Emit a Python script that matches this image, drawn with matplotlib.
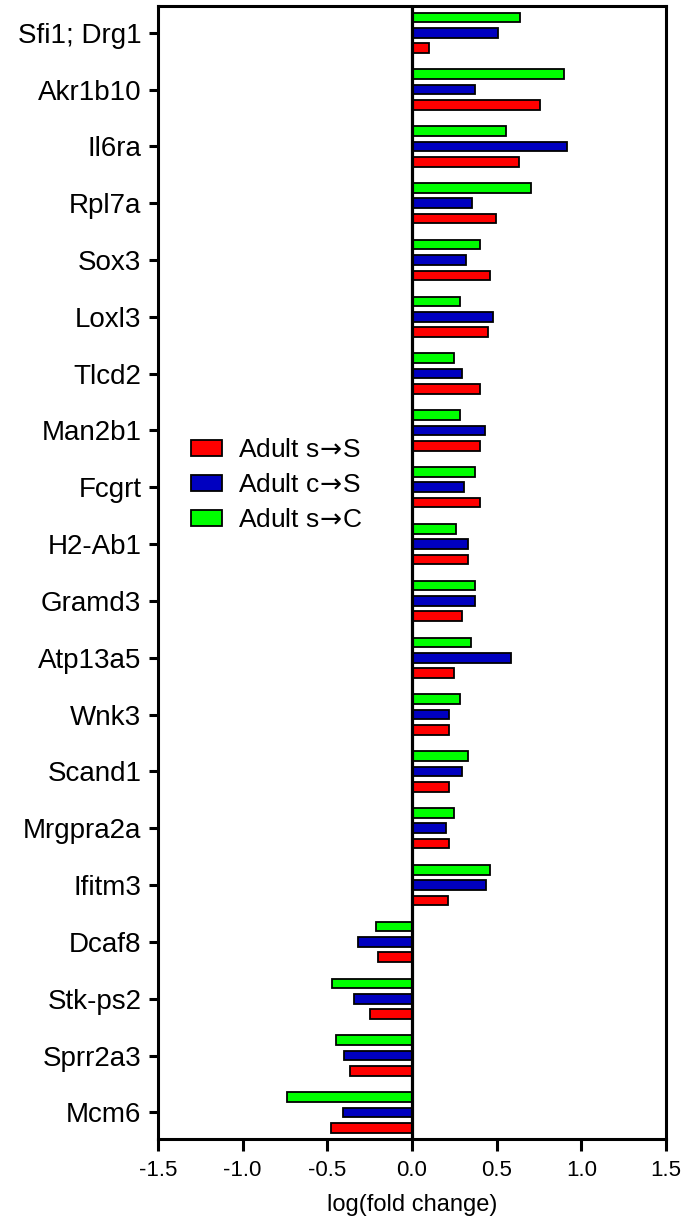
import numpy as np
import matplotlib
matplotlib.use("Agg")
import matplotlib.pyplot as plt

plt.rcParams['font.family'] = ['Liberation Sans', 'DejaVu Sans']
plt.rcParams['mathtext.fontset'] = 'dejavusans'

genes = ["Sfi1; Drg1", "Akr1b10", "Il6ra", "Rpl7a", "Sox3", "Loxl3", "Tlcd2",
         "Man2b1", "Fcgrt", "H2-Ab1", "Gramd3", "Atp13a5", "Wnk3", "Scand1",
         "Mrgpra2a", "Ifitm3", "Dcaf8", "Stk-ps2", "Sprr2a3", "Mcm6"]

adult_sS = [0.10, 0.755, 0.63, 0.495, 0.46, 0.45, 0.40, 0.40, 0.40, 0.33,
            0.295, 0.25, 0.22, 0.22, 0.22, 0.21, -0.20, -0.25, -0.365, -0.48]
adult_cS = [0.51, 0.375, 0.915, 0.355, 0.32, 0.48, 0.295, 0.43, 0.305, 0.33,
            0.375, 0.585, 0.22, 0.295, 0.20, 0.44, -0.32, -0.34, -0.40, -0.41]
adult_sC = [0.64, 0.90, 0.555, 0.70, 0.40, 0.285, 0.25, 0.285, 0.375, 0.26,
            0.375, 0.35, 0.285, 0.33, 0.25, 0.46, -0.21, -0.47, -0.45, -0.74]

# arrow drawn in mathtext, \! cancels the relation spacing around it
arrow = r"$\!\rightarrow\!$"

# (label, values, colour, offset within the gene group)
series = [("Adult s" + arrow + "S", adult_sS, "#FF0000", 0.27),
          ("Adult c" + arrow + "S", adult_cS, "#0000C0", 0.0),
          ("Adult s" + arrow + "C", adult_sC, "#00FF00", -0.27)]

fig = plt.figure(figsize=(6.89, 12.24), dpi=100)
ax = fig.add_axes([0.2293, 0.0694, 0.7373, 0.9257])

y = np.arange(len(genes))
for label, vals, color, off in series:
    ax.barh(y + off, vals, height=0.17, color=color, edgecolor='black',
            linewidth=1.3, label=label, zorder=2)

ax.axvline(0, color='black', linewidth=2.3, zorder=3)

ax.set_xlim(-1.5, 1.5)
ax.set_ylim(len(genes) - 1 + 0.47, -0.47)
ax.set_xticks([-1.5, -1.0, -0.5, 0.0, 0.5, 1.0, 1.5])
ax.set_xticklabels(["-1.5", "-1.0", "-0.5", "0.0", "0.5", "1.0", "1.5"])
ax.set_yticks(y)
ax.set_yticklabels(genes)
ax.tick_params(axis='x', labelsize=16, length=8.6, width=2.2, pad=6.5)
ax.tick_params(axis='y', labelsize=20, length=6.5, width=2.2, pad=5.5)
for s in ax.spines.values():
    s.set_linewidth(2.2)

ax.set_xlabel("log(fold change)", fontsize=17, labelpad=9)

leg = ax.legend(loc='upper left', bbox_to_anchor=(0.2765, 0.642),
                bbox_transform=fig.transFigure, frameon=False, fontsize=19,
                handlelength=1.2, handleheight=0.6, handletextpad=0.6,
                labelspacing=0.42, borderpad=0, borderaxespad=0)

fig.savefig("out.png", dpi=100)
